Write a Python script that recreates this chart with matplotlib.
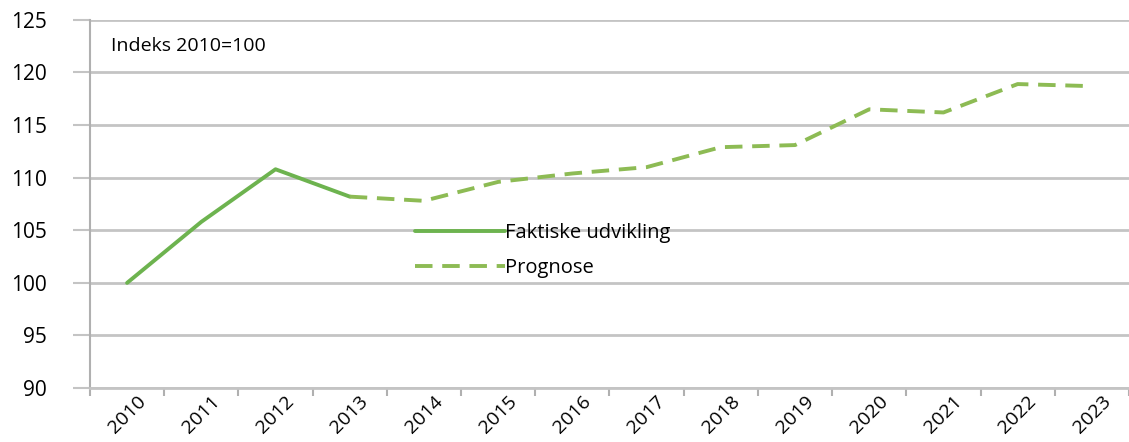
import matplotlib.pyplot as plt
import numpy as np

years = ['2010', '2011', '2012', '2013', '2014', '2015', '2016', '2017',
         '2018', '2019', '2020', '2021', '2022', '2023']
faktisk = [100.0, 105.8, 110.8, 108.2]
prognose = [108.2, 107.8, 109.6, 110.4, 111.0, 112.9, 113.1, 116.5, 116.2, 118.9, 118.7]
yticks = [90, 95, 100, 105, 110, 115, 120, 125]

plt.rcParams['font.family'] = ['Open Sans', 'DejaVu Sans']

fig = plt.figure(figsize=(11.29, 4.42), dpi=100)
ax = fig.add_axes([0.0797, 0.122, 0.9203, 0.833])

x = np.arange(len(years))
ax.plot(x[:len(faktisk)], faktisk, color='#6db34f', lw=2.8,
        label='Faktiske udvikling', solid_capstyle='round')
ax.plot(x[len(faktisk) - 1:], prognose, color='#8dbb54', lw=2.8,
        dashes=(4.5, 2.5), label='Prognose')

ax.set_xlim(-0.5, len(years) - 0.5)
ax.set_ylim(90, 125)
ax.set_yticks(yticks)
ax.set_yticklabels([str(v) for v in yticks], fontsize=15)
ax.yaxis.grid(True, color='#c4c4c4', lw=2)
ax.set_axisbelow(True)

ax.set_xticks(x)
ax.set_xticklabels(years, rotation=45, ha='center', fontsize=14)
ax.tick_params(axis='x', which='major', length=0, pad=3)
ax.set_xticks(np.arange(-0.5, len(years)), minor=True)
ax.tick_params(axis='x', which='minor', length=6, width=1.5, color='#b0b0b0', direction='out')
ax.tick_params(axis='y', length=12, width=1.5, color='#c4c4c4', pad=19)

for s in ['top', 'right']:
    ax.spines[s].set_visible(False)
ax.spines['left'].set_color('#b0b0b0')
ax.spines['left'].set_linewidth(1.5)
ax.spines['bottom'].set_color('#c4c4c4')
ax.spines['bottom'].set_linewidth(2)

ax.text(0.02, 0.93, 'Indeks 2010=100', transform=ax.transAxes, fontsize=14,
        va='center', ha='left')

ax.legend(loc='upper left', bbox_to_anchor=(0.303, 0.475), frameon=False,
          fontsize=14.5, handlelength=4.5, handletextpad=0.0,
          labelspacing=0.75, borderpad=0)

fig.savefig('out.png', dpi=100)
